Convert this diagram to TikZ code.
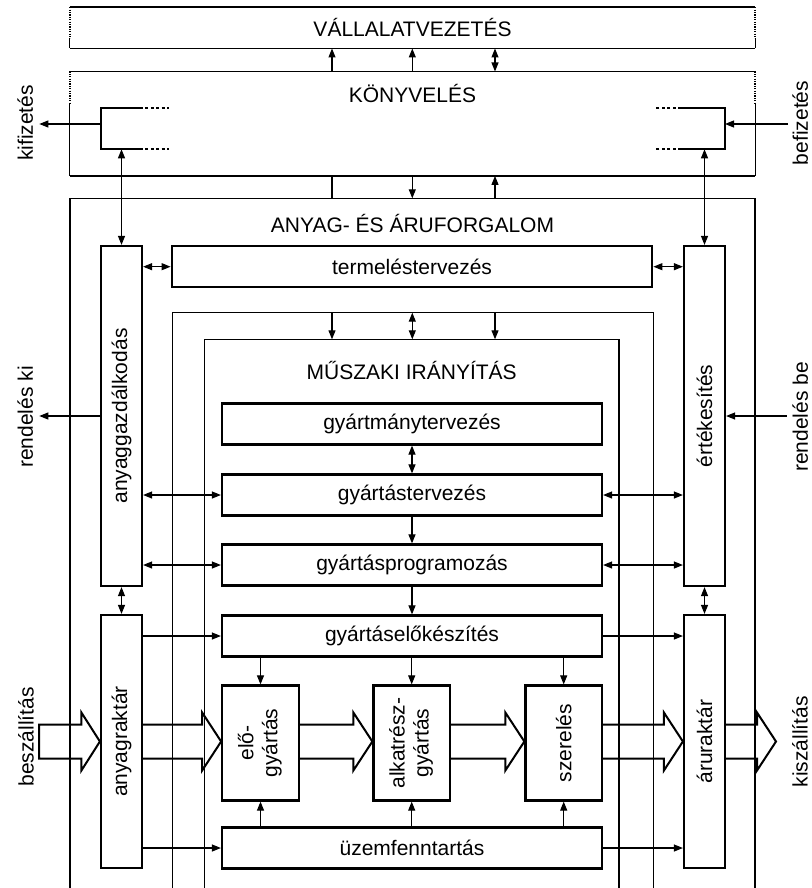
\documentclass[tikz,border=0pt]{standalone}
\usepackage{fontspec}
\setmainfont{Liberation Sans}
\usetikzlibrary{arrows.meta,calc}
\newcommand\bigarw[2]{%
  \draw[bigarr] ($(#1)+(0,-17)$) -- ($(#2)+(-19,-17)$) -- ($(#2)+(-19,-29)$) -- (#2)
    -- ($(#2)+(-19,29)$) -- ($(#2)+(-19,17)$) -- ($(#1)+(0,17)$);}
\begin{document}
\begin{tikzpicture}[x=1pt,y=-1pt,
  font={\fontsize{21}{24}\selectfont},
  bx/.style={draw, line width=2.2pt, inner sep=0pt},
  txt/.style={inner sep=0pt},
  tline/.style={line width=1.1pt},
  mline/.style={line width=1.5pt},
  hline/.style={line width=1.8pt},
  arr/.style={line width=1.1pt, -{Triangle[length=9pt,width=7pt]}},
  darr/.style={line width=1.1pt, {Triangle[length=9pt,width=7pt]}-{Triangle[length=9pt,width=7pt]}},
  vdots/.style={line width=1.6pt, dash pattern=on 1.2pt off 1.2pt},
  bdots/.style={line width=2.2pt, dash pattern=on 3pt off 2.4pt},
  bigarr/.style={line width=2pt, line join=miter},
]
\useasboundingbox (0,0) rectangle (811,888);

% column x-coordinates and rows
\coordinate (cA) at (332,0);
\coordinate (cB) at (412.3,0);
\coordinate (cC) at (495,0);
\coordinate (ym) at (0,741.5);

% ---------- VÁLLALATVEZETÉS ----------
\node[txt, minimum width=685pt, minimum height=40.8pt] (vv) at (412.5,27.9) {VÁLLALATVEZETÉS};
\draw[hline] (vv.north west) -- (vv.north east);
\draw[hline] (vv.south west) -- (vv.south east);
\draw[vdots] (vv.north west) -- ($(vv.south west)+(0,-10)$);
\draw[tline] ($(vv.south west)+(0,-10)$) -- (vv.south west);
\draw[vdots] (vv.north east) -- ($(vv.south east)+(0,-10)$);
\draw[tline] ($(vv.south east)+(0,-10)$) -- (vv.south east);

% ---------- KÖNYVELÉS ----------
\node[txt, minimum width=685pt, minimum height=104pt] (kv) at (412.5,123.7) {};
\node[txt] (kvt) at (412.5,93) {KÖNYVELÉS};
\draw[hline] (kv.north west) -- (kv.north east);
\draw[hline] (kv.south west) -- (kv.south east);
\draw[vdots] (kv.north west) -- ($(kv.north west)+(0,32)$);
\draw[tline] ($(kv.north west)+(0,32)$) -- (kv.south west);
\draw[vdots] (kv.north east) -- ($(kv.north east)+(0,32)$);
\draw[tline] ($(kv.north east)+(0,32)$) -- (kv.south east);

\draw[arr] (kv.north -| cA) -- (vv.south -| cA);
\draw[arr] (kv.north -| cB) -- (vv.south -| cB);
\draw[darr] (kv.north -| cC) -- (vv.south -| cC);

% brackets
\coordinate (bl1) at (169.3,108.3);
\coordinate (bl2) at (140,108.3);
\coordinate (bl3) at (100.7,108.3);
\coordinate (bl4) at (100.7,149.3);
\coordinate (bl5) at (140,149.3);
\coordinate (bl6) at (169.3,149.3);
\coordinate (bl7) at (100.7,124);
\draw[line width=2.2pt] (bl2) -- (bl3) -- (bl4) -- (bl5);
\draw[bdots] (bl2) -- (bl1);
\draw[bdots] (bl5) -- (bl6);
\coordinate (br1) at (656,108.3);
\coordinate (br2) at (681,108.3);
\coordinate (br3) at (725,108.3);
\coordinate (br4) at (725,149.3);
\coordinate (br5) at (681,149.3);
\coordinate (br6) at (656,149.3);
\coordinate (br7) at (725,124);
\draw[line width=2.2pt] (br2) -- (br3) -- (br4) -- (br5);
\draw[bdots] (br2) -- (br1);
\draw[bdots] (br5) -- (br6);

\coordinate (kiE) at (39.3,124);
\coordinate (beS) at (788,124);
\draw[arr] (bl7) -- (kiE);
\draw[arr] (beS) -- (br7);
\node[txt, rotate=90] (kifiz) at (25.3,123) {kifizetés};
\node[txt, rotate=90] (befiz) at (800.3,123) {befizetés};

% ---------- ANYAG- ÉS ÁRUFORGALOM ----------
\coordinate (aTop) at (412.5,198.3);
\draw[tline] (70,888) -- (70,198.3) -- (755,198.3) -- (755,888);
\node[txt] (anyt) at (412.5,223.5) {ANYAG- ÉS ÁRUFORGALOM};
\draw[tline] (kv.south -| cA) -- (aTop -| cA);
\draw[arr] (kv.south -| cB) -- (aTop -| cB);
\draw[arr] (aTop -| cC) -- (kv.south -| cC);

% side columns
\node[bx, minimum width=41pt, minimum height=340pt] (ag) at (121.5,416) {\rotatebox{90}{anyaggazdálkodás}};
\node[bx, minimum width=41pt, minimum height=253pt] (ar) at (121.5,741.5) {\rotatebox{90}{anyagraktár}};
\node[bx, minimum width=41pt, minimum height=340pt] (ert) at (704.5,416) {\rotatebox{90}{értékesítés}};
\node[bx, minimum width=41pt, minimum height=253pt] (aru) at (704.5,741.5) {\rotatebox{90}{áruraktár}};

\draw[darr] (ag.north) -- (ag.north |- bl4);
\draw[darr] (ert.north) -- (ert.north |- br4);
\draw[darr] (ag.south) -- (ar.north);
\draw[darr] (ert.south) -- (aru.north);

\coordinate (rkE) at (39.3,416);
\coordinate (rbS) at (786.7,416);
\draw[arr] (ag.west) -- (rkE);
\draw[arr] (rbS) -- (ert.east);
\node[txt, rotate=90] (rki) at (25.3,417) {rendelés ki};
\node[txt, rotate=90] (rbe) at (800.3,417) {rendelés be};

% termeléstervezés
\node[bx, minimum width=480.6pt, minimum height=41.3pt] (tt) at (412,266.7) {termeléstervezés};
\draw[darr] (ag.east |- tt) -- (tt.west);
\draw[darr] (tt.east) -- (ert.west |- tt);

% inner frames
\coordinate (iTop) at (412,312.7);
\coordinate (mTop) at (412,339.3);
\draw[tline] (172.7,888) -- (172.7,312.7) -- (653.3,312.7) -- (653.3,888);
\draw[mline] (204.3,888) -- (204.3,339.3) -- (619,339.3) -- (619,888);
\draw[arr] (iTop -| cA) -- (mTop -| cA);
\draw[darr] (iTop -| cB) -- (mTop -| cB);
\draw[arr] (iTop -| cC) -- (mTop -| cC);
\node[txt] (mut) at (411.7,370.5) {MŰSZAKI IRÁNYÍTÁS};

% production control boxes
\node[bx, minimum width=380pt, minimum height=41pt] (gy1) at (412,424) {gyártmánytervezés};
\node[bx, minimum width=380pt, minimum height=41pt] (gy2) at (412,495) {gyártástervezés};
\node[bx, minimum width=380pt, minimum height=41pt] (gy3) at (412,565) {gyártásprogramozás};
\node[bx, minimum width=380pt, minimum height=41pt] (gy4) at (412,636) {gyártáselőkészítés};
\node[bx, minimum width=380pt, minimum height=41pt] (uz) at (412,848) {üzemfenntartás};

\draw[darr] (gy1.south) -- (gy2.north);
\draw[arr] (gy2.south) -- (gy3.north);
\draw[arr] (gy3.south) -- (gy4.north);

\draw[darr] (ag.east |- gy2) -- (gy2.west);
\draw[darr] (gy2.east) -- (ert.west |- gy2);
\draw[darr] (ag.east |- gy3) -- (gy3.west);
\draw[darr] (gy3.east) -- (ert.west |- gy3);
\draw[arr] (ar.east |- gy4) -- (gy4.west);
\draw[arr] (gy4.east) -- (aru.west |- gy4);
\draw[arr] (ar.east |- uz) -- (uz.west);
\draw[arr] (uz.east) -- (aru.west |- uz);

% manufacturing boxes
\node[bx, minimum width=76.5pt, minimum height=115pt] (elo) at (260.5,743) {\rotatebox{90}{\begin{tabular}{@{}c@{}}elő-\\gyártás\end{tabular}}};
\node[bx, minimum width=76.5pt, minimum height=115pt] (alk) at (411.7,743) {\rotatebox{90}{\begin{tabular}{@{}c@{}}alkatrész-\\gyártás\end{tabular}}};
\node[bx, minimum width=76.5pt, minimum height=115pt] (sz) at (563.7,743) {\rotatebox{90}{szerelés}};

\draw[arr] (gy4.south -| elo) -- (elo.north);
\draw[arr] (gy4.south -| alk) -- (alk.north);
\draw[arr] (gy4.south -| sz) -- (sz.north);
\draw[arr] (uz.north -| elo) -- (elo.south);
\draw[arr] (uz.north -| alk) -- (alk.south);
\draw[arr] (uz.north -| sz) -- (sz.south);

% big material-flow arrows
\coordinate (bzT) at (39,741.5);
\coordinate (tAr) at (ar.west |- ym);
\draw[bigarr] ($(bzT)+(0,-17)$) -- ($(tAr)+(-18.5,-17)$) -- ($(tAr)+(-18.5,-29)$) -- (tAr)
  -- ($(tAr)+(-18.5,29)$) -- ($(tAr)+(-18.5,17)$) -- ($(bzT)+(0,17)$) -- cycle;
\coordinate (s1) at (ar.east |- ym);   \coordinate (t1) at (elo.west |- ym);
\coordinate (s2) at (elo.east |- ym);  \coordinate (t2) at (alk.west |- ym);
\coordinate (s3) at (alk.east |- ym);  \coordinate (t3) at (sz.west |- ym);
\coordinate (s4) at (sz.east |- ym);   \coordinate (t4) at (aru.west |- ym);
\coordinate (s5) at (aru.east |- ym);  \coordinate (t5) at (776,741.5);
\bigarw{s1}{t1}
\bigarw{s2}{t2}
\bigarw{s3}{t3}
\bigarw{s4}{t4}
\bigarw{s5}{t5}

\node[txt, rotate=90] (besz) at (26,737) {beszállítás};
\node[txt, rotate=90] (kisz) at (800,741.7) {kiszállítás};
\end{tikzpicture}
\end{document}
